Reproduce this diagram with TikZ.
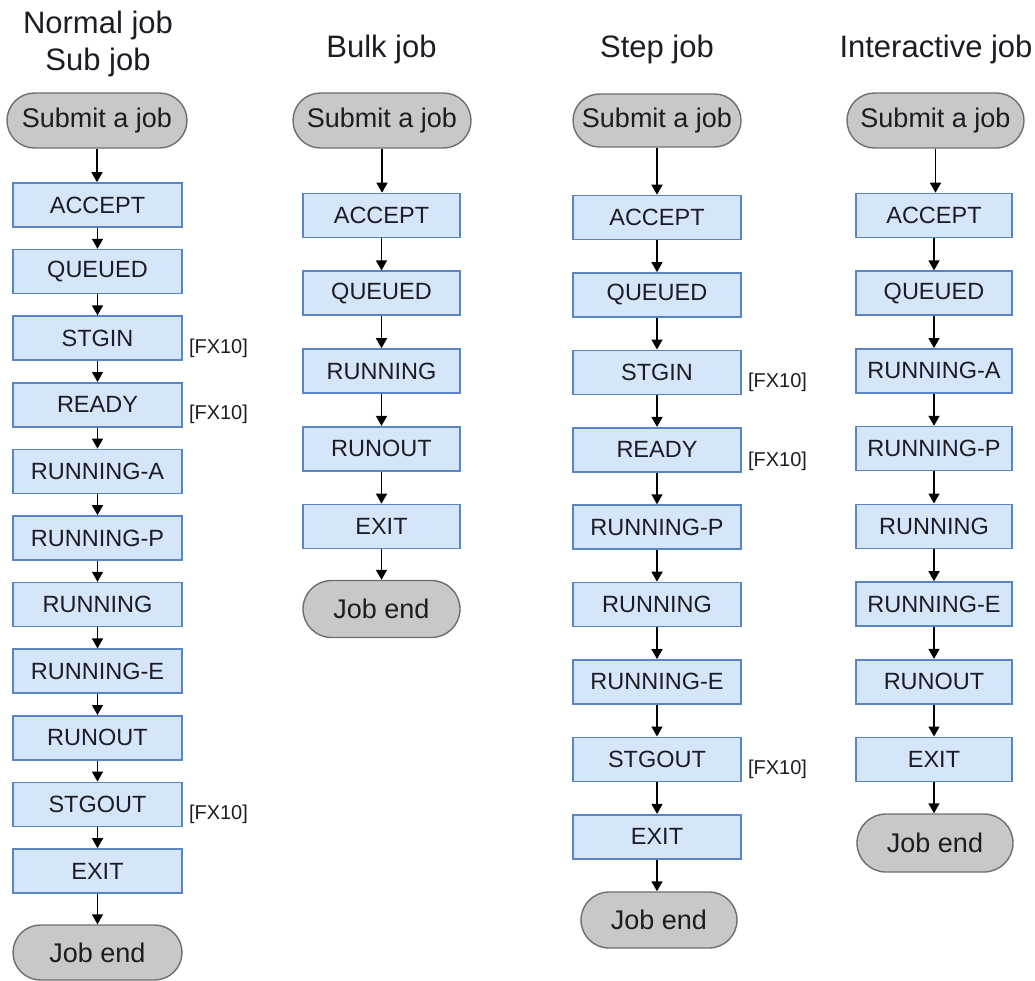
\documentclass[tikz,border=0pt]{standalone}
\usepackage{fontspec}
\setmainfont{Liberation Sans}
\usetikzlibrary{arrows.meta,shapes.misc}

\definecolor{boxfill}{HTML}{D6E6FA}
\definecolor{boxline}{HTML}{5A85C4}
\definecolor{pillfill}{HTML}{C8C8C6}
\definecolor{pillline}{HTML}{6E6E6E}
\definecolor{ink}{HTML}{1C1C24}

\tikzset{
  stepbox/.style={draw=boxline, fill=boxfill, line width=1.6pt, inner sep=0pt,
    minimum height=44pt, text=ink, font=\fontsize{23.5}{28}\selectfont},
  pill/.style={rounded rectangle, draw=pillline, fill=pillfill, line width=1.4pt,
    inner sep=0pt, text=ink, font=\fontsize{27}{32}\selectfont},
  fxlabel/.style={anchor=west, inner sep=0pt, xshift=6pt, yshift=-10pt,
    text=ink, font=\fontsize{20}{24}\selectfont},
  header/.style={inner sep=0pt, text=ink, align=center,
    font=\fontsize{31}{37}\selectfont},
  flow/.style={draw=black, line width=1.5pt, -{Triangle[length=10pt,width=11pt]}}
}

\begin{document}
\begin{tikzpicture}[x=1pt, y=-1pt]
\useasboundingbox (0,0) rectangle (1035,981);

% ---------- headers ----------
\node[header, anchor=north] (h1) at (98,11) {Normal job\\Sub job};
\node[header, anchor=base] (h2) at (381.5,58) {Bulk job};
\node[header, anchor=base] (h3) at (657,58) {Step job};
\node[header, anchor=base] (h4) at (936,58) {Interactive job};

% ---------- normal job / sub job ----------
\node[pill, minimum width=180pt, minimum height=55pt] (s1) at (97,120.5) {Submit a job};
\foreach \lab [count=\i from 0] in {ACCEPT,QUEUED,STGIN,READY,RUNNING-A,RUNNING-P,RUNNING,RUNNING-E,RUNOUT,STGOUT,EXIT}
  \node[stepbox, minimum width=169pt] (a\i) at (97.5,{205+66.6*\i}) {\lab};
\node[pill, minimum width=169pt, minimum height=55pt] (e1) at (97.5,952.5) {Job end};
\draw[flow] (s1.south) -- (s1.south |- a0.north);
\foreach \i in {0,...,9}{
  \pgfmathtruncatemacro\j{\i+1}
  \draw[flow] (a\i.south) -- (a\i.south |- a\j.north);
}
\draw[flow] (a10.south) -- (a10.south |- e1.north);
\node[fxlabel] (fa2) at (a2.east) {[FX10]};
\node[fxlabel] (fa3) at (a3.east) {[FX10]};
\node[fxlabel] (fa9) at (a9.east) {[FX10]};

% ---------- bulk job ----------
\node[pill, minimum width=178pt, minimum height=55pt] (s2) at (382,120.5) {Submit a job};
\foreach \lab [count=\i from 0] in {ACCEPT,QUEUED,RUNNING,RUNOUT,EXIT}
  \node[stepbox, minimum width=157pt] (b\i) at (381.5,{215.5+77.75*\i}) {\lab};
\node[pill, minimum width=157pt, minimum height=57pt] (e2) at (381.5,609) {Job end};
\draw[flow] (s2.south) -- (s2.south |- b0.north);
\foreach \i in {0,...,3}{
  \pgfmathtruncatemacro\j{\i+1}
  \draw[flow] (b\i.south) -- (b\i.south |- b\j.north);
}
\draw[flow] (b4.south) -- (b4.south |- e2.north);

% ---------- step job ----------
\node[pill, minimum width=168pt, minimum height=53pt] (s3) at (657,120.5) {Submit a job};
\foreach \lab [count=\i from 0] in {ACCEPT,QUEUED,STGIN,READY,RUNNING-P,RUNNING,RUNNING-E,STGOUT,EXIT}
  \node[stepbox, minimum width=168pt] (c\i) at (657,{217.5+77.4*\i}) {\lab};
\node[pill, minimum width=156pt, minimum height=56pt] (e3) at (659,920) {Job end};
\draw[flow] (s3.south) -- (s3.south |- c0.north);
\foreach \i in {0,...,7}{
  \pgfmathtruncatemacro\j{\i+1}
  \draw[flow] (c\i.south) -- (c\i.south |- c\j.north);
}
\draw[flow] (c8.south) -- (c8.south |- e3.north);
\node[fxlabel] (fc2) at (c2.east) {[FX10]};
\node[fxlabel, yshift=-2pt] (fc3) at (c3.east) {[FX10]};
\node[fxlabel] (fc7) at (c7.east) {[FX10]};

% ---------- interactive job ----------
\node[pill, minimum width=177pt, minimum height=55pt] (s4) at (935.5,120.5) {Submit a job};
\foreach \lab [count=\i from 0] in {ACCEPT,QUEUED,RUNNING-A,RUNNING-P,RUNNING,RUNNING-E,RUNOUT,EXIT}
  \node[stepbox, minimum width=156pt] (d\i) at (934,{215.5+77.7*\i}) {\lab};
\node[pill, minimum width=156pt, minimum height=58pt] (e4) at (935,843) {Job end};
\draw[flow] (s4.south) -- (s4.south |- d0.north);
\foreach \i in {0,...,6}{
  \pgfmathtruncatemacro\j{\i+1}
  \draw[flow] (d\i.south) -- (d\i.south |- d\j.north);
}
\draw[flow] (d7.south) -- (d7.south |- e4.north);
\end{tikzpicture}
\end{document}
